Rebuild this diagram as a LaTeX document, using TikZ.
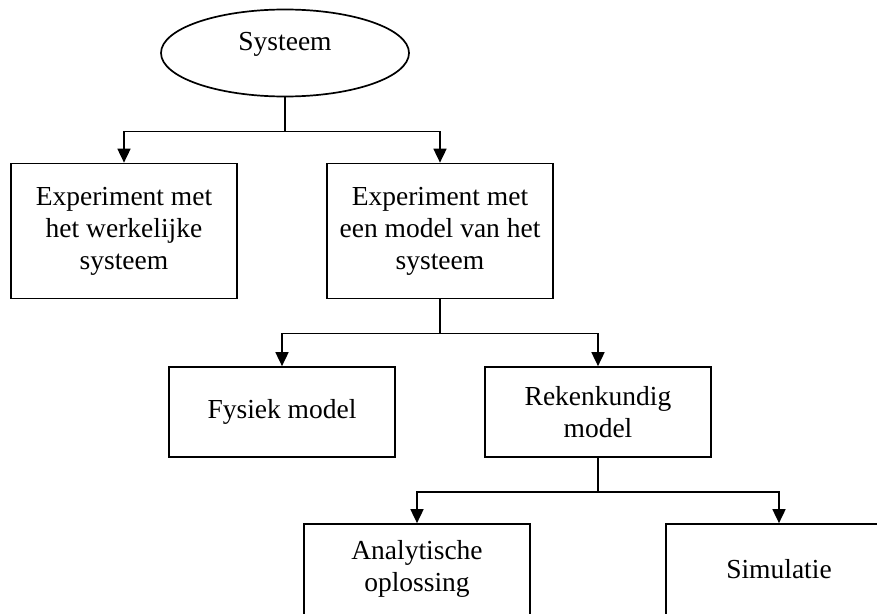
\documentclass[tikz,border=0pt]{standalone}
\usepackage{fontspec}
\setmainfont{Liberation Serif}
\usetikzlibrary{arrows.meta,shapes.geometric}

\tikzset{
  box/.style={draw,line width=1.7pt,minimum width=226pt,align=center,inner sep=0pt},
  conn/.style={line width=1.7pt},
  arr/.style={conn,-{Triangle[length=14pt,width=13pt]}}
}

\begin{document}
\begin{tikzpicture}[x=1pt,y=1pt,font=\fontsize{27.5}{32}\selectfont]
  \useasboundingbox (0,0) rectangle (877,-613);
  \clip (0,0) rectangle (877,-613);
  % top of the tree
  \node[ellipse,draw,line width=1.7pt,minimum width=248pt,minimum height=87pt,inner sep=0pt]
    (sys) at (285,-53) {\raisebox{9pt}[\height][\depth]{Systeem}};
  % first level
  \node[box,minimum height=135pt] (exp1) at (124,-231) {Experiment met\\het werkelijke\\systeem};
  \node[box,minimum height=135pt] (exp2) at (440,-231) {Experiment met\\een model van het\\systeem};
  % second level
  \node[box,minimum height=90pt] (fys) at (282,-412) {Fysiek model};
  \node[box,minimum height=90pt] (rek) at (598,-412) {Rekenkundig\\model};
  % third level, cut off at the bottom
  \node[box,minimum height=100pt] (ana) at (417,-574)
    {\raisebox{5pt}[\height][\depth]{\begin{tabular}{@{}c@{}}Analytische\\oplossing\end{tabular}}};
  \node[box,minimum height=100pt] (sim) at (779,-574) {\raisebox{5pt}[\height][\depth]{Simulatie}};
  % connectors
  \draw[conn] (sys.south) -- ++(0,-34) coordinate (f1);
  \draw[arr] (f1) -| (exp1.north);
  \draw[arr] (f1) -| (exp2.north);
  \draw[conn] (exp2.south) -- ++(0,-34) coordinate (f2);
  \draw[arr] (f2) -| (fys.north);
  \draw[arr] (f2) -| (rek.north);
  \draw[conn] (rek.south) -- ++(0,-34) coordinate (f3);
  \draw[arr] (f3) -| (ana.north);
  \draw[arr] (f3) -| (sim.north);
\end{tikzpicture}
\end{document}
